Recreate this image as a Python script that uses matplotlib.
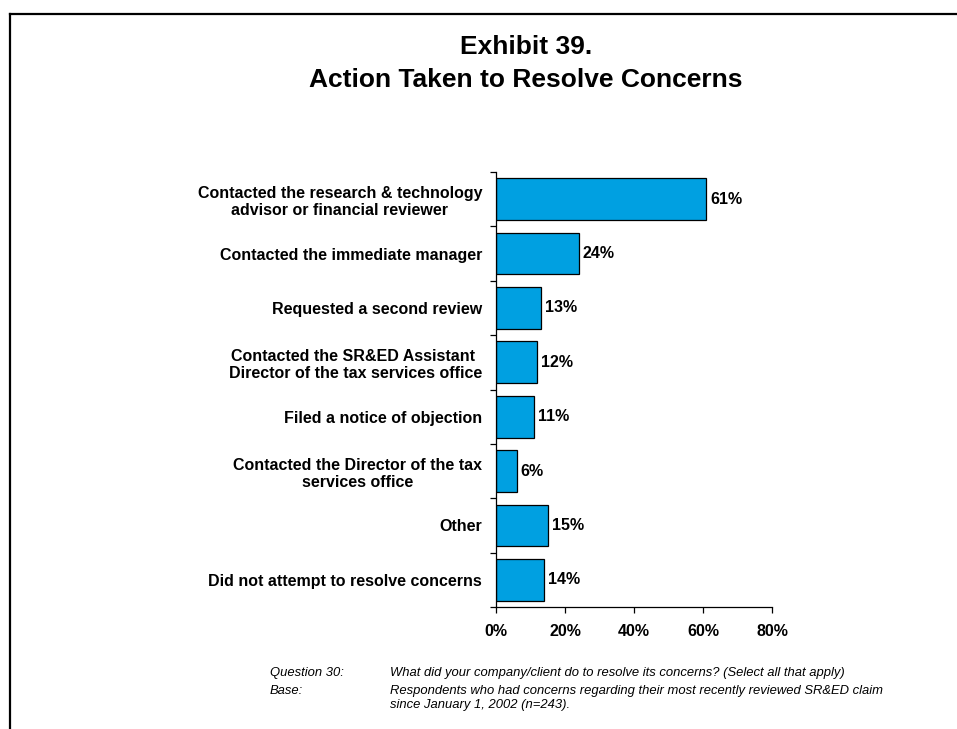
import matplotlib
matplotlib.use('Agg')
import matplotlib.pyplot as plt
from matplotlib.lines import Line2D
import numpy as np

plt.rcParams['font.family'] = ['Liberation Sans', 'DejaVu Sans']

# Survey responses (percent of respondents, multiple answers allowed)
categories = [
    'Contacted the research & technology\nadvisor or financial reviewer',
    'Contacted the immediate manager',
    'Requested a second review',
    'Contacted the SR&ED Assistant \nDirector of the tax services office',
    'Filed a notice of objection',
    'Contacted the Director of the tax\nservices office',
    'Other',
    'Did not attempt to resolve concerns',
]
values = [61, 24, 13, 12, 11, 6, 15, 14]
x_ticks = [0, 20, 40, 60, 80]

title_lines = ['Exhibit 39.', 'Action Taken to Resolve Concerns']
note_labels = ['Question 30:', 'Base:', '']
note_texts = [
    'What did your company/client do to resolve its concerns? (Select all that apply)',
    'Respondents who had concerns regarding their most recently reviewed SR&ED claim',
    'since January 1, 2002 (n=243).',
]

fig = plt.figure(figsize=(9.57, 7.29), dpi=100)
W, H = 957, 729
ax = fig.add_axes([496 / W, 1 - 607 / H, 276 / W, 435 / H])

y = np.arange(len(categories))
ax.barh(y, values, height=0.77, color='#00A0E1', edgecolor='black', linewidth=0.9)
for yi, v in zip(y, values):
    ax.text(v + 1.1, yi, f'{v}%', va='center', ha='left', fontsize=11.5, fontweight='bold')

ax.set_xlim(0, 80)
ax.set_ylim(len(categories) - 0.5, -0.5)
ax.set_xticks(x_ticks)
ax.set_xticklabels([f'{t}%' for t in x_ticks], fontsize=11.5, fontweight='bold')
ax.set_yticks(y)
ax.set_yticklabels(categories, fontsize=11.5, fontweight='bold', multialignment='center')
ax.set_yticks(np.arange(len(categories) + 1) - 0.5, minor=True)
ax.tick_params(axis='y', which='major', length=0, pad=10)
ax.tick_params(axis='y', which='minor', length=4, width=0.9, direction='out')
ax.tick_params(axis='x', length=4, width=0.9, direction='out', pad=8)
for s in ['top', 'right']:
    ax.spines[s].set_visible(False)
for s in ['left', 'bottom']:
    ax.spines[s].set_linewidth(0.9)

for ty, line in zip([47, 80], title_lines):
    fig.text(526 / W, 1 - ty / H, line, ha='center', va='center', fontsize=19,
             fontweight='bold')

# footnote block
for ny, lab, txt in zip([673, 691, 705], note_labels, note_texts):
    fig.text(270 / W, 1 - ny / H, lab, ha='left', va='center', fontsize=9.4, style='italic')
    fig.text(390 / W, 1 - ny / H, txt, ha='left', va='center', fontsize=9.4, style='italic')

# page frame (top and left edges)
fig.add_artist(Line2D([10 / W, 1], [1 - 14 / H, 1 - 14 / H], color='black', lw=1.6,
                      transform=fig.transFigure))
fig.add_artist(Line2D([10 / W, 10 / W], [0, 1 - 14 / H], color='black', lw=1.6,
                      transform=fig.transFigure, solid_capstyle='projecting'))

fig.savefig('out.png', dpi=100)
